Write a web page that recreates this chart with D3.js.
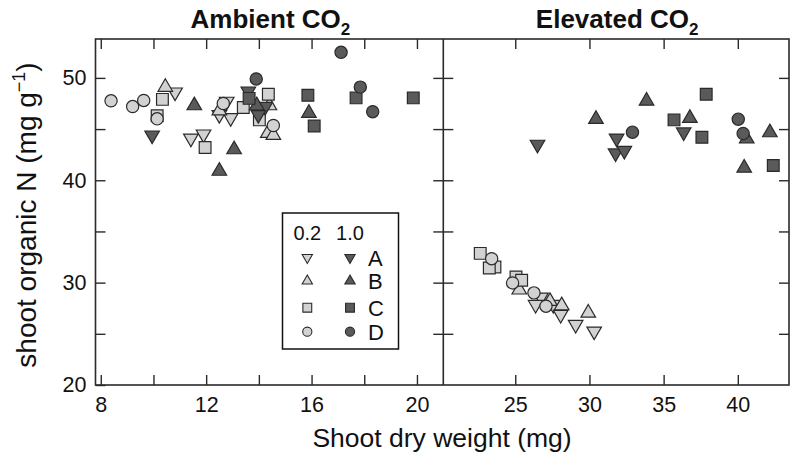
<!DOCTYPE html>
<html><head><meta charset="utf-8">
<script src="https://cdn.jsdelivr.net/npm/d3@7"></script>
<style>
body{margin:0;background:#fff}
svg{display:block}
text{font-family:"Liberation Sans",Arial,Helvetica,sans-serif;fill:#111}
</style>
</head><body>
<svg id="chart" width="793" height="455"></svg>
<script>
// ---- categories / ticks ----
const groups = ["A", "B", "C", "D"];
const levels = ["0.2", "1.0"];
const panelTitles = ["Ambient CO", "Elevated CO"];
const ambientXTicks = [8, 10, 12, 14, 16, 18, 20];
const ambientXLabels = [8, 12, 16, 20];
const elevatedXTicks = [25, 30, 35, 40];
const yTicks = [20, 25, 30, 35, 40, 45, 50];
const yLabels = [20, 30, 40, 50];

// ---- data: [shoot dry weight (mg), shoot organic N (mg/g)] ----
// Ambient CO2, level 0.2
const amb02A = [[10.82,48.6],[11.42,44.1],[11.9,44.5],[12.78,47.7],[12.93,46.1],[12.5,46.4]];
const amb02B = [[10.45,49.1],[12.5,46.8],[14.34,44.6],[14.55,44.4],[14.4,47.3]];
const amb02C = [[10.34,47.9],[10.14,46.3],[11.96,43.2],[13.41,47.1],[14.36,48.4],[14.02,45.9]];
const amb02D = [[8.39,47.76],[9.21,47.2],[9.63,47.8],[10.14,46.0],[12.65,47.5],[14.55,45.35]];
// Ambient CO2, level 1.0
const amb10A = [[9.95,44.4],[13.6,48.7],[14.24,47.2],[13.98,46.4]];
const amb10B = [[11.55,47.3],[13.06,43.0],[12.5,40.9],[13.92,47.3],[15.9,46.55]];
const amb10C = [[13.63,48.0],[15.86,48.3],[16.1,45.3],[17.69,48.05],[19.86,48.05]];
const amb10D = [[13.9,49.9],[17.12,52.5],[17.85,49.1],[18.32,46.7]];
// Elevated CO2, level 0.2
const ele02A = [[26.73,28.57],[26.37,27.85],[27.56,27.85],[28.06,26.88],[29.07,25.9],[30.32,25.25]];
const ele02B = [[25.27,29.3],[27.34,28.18],[28.13,27.76],[29.92,27.04]];
const ele02C = [[22.64,32.86],[23.63,31.53],[23.25,31.43],[25.05,30.55],[25.43,30.23]];
const ele02D = [[23.41,32.34],[24.82,29.97],[26.26,29.0],[27.07,27.7]];
// Elevated CO2, level 1.0
const ele10A = [[26.5,43.5],[31.83,44.1],[31.76,42.65],[32.35,42.9],[36.35,44.7]];
const ele10B = [[30.44,45.97],[33.85,47.75],[36.77,46.07],[40.6,44.05],[40.43,41.2],[42.16,44.66]];
const ele10C = [[35.7,45.9],[37.87,48.4],[37.58,44.2],[42.39,41.45]];
const ele10D = [[32.9,44.7],[40.03,45.97],[40.36,44.57]];

const seriesTable = [
  {panel:0, level:"0.2", group:"A", data:amb02A},{panel:0, level:"0.2", group:"B", data:amb02B},
  {panel:0, level:"0.2", group:"C", data:amb02C},{panel:0, level:"0.2", group:"D", data:amb02D},
  {panel:0, level:"1.0", group:"A", data:amb10A},{panel:0, level:"1.0", group:"B", data:amb10B},
  {panel:0, level:"1.0", group:"C", data:amb10C},{panel:0, level:"1.0", group:"D", data:amb10D},
  {panel:1, level:"0.2", group:"A", data:ele02A},{panel:1, level:"0.2", group:"B", data:ele02B},
  {panel:1, level:"0.2", group:"C", data:ele02C},{panel:1, level:"0.2", group:"D", data:ele02D},
  {panel:1, level:"1.0", group:"A", data:ele10A},{panel:1, level:"1.0", group:"B", data:ele10B},
  {panel:1, level:"1.0", group:"C", data:ele10C},{panel:1, level:"1.0", group:"D", data:ele10D}
];

// ---- styles ----
const fillFor = {"0.2":"#d2d2d2", "1.0":"#5a5a5a"};
const strokeCol = "#2a2a2a";
const axisCol = "#2a2a2a";

const svg = d3.select("#chart");
const plotTop = 39, plotBottom = 385;
const y = d3.scaleLinear().domain([20, 53.8]).range([plotBottom, plotTop]);
const xA = d3.scaleLinear().domain([7.8, 21.0]).range([95.5, 443.3]);
const xE = d3.scaleLinear().domain([20.15, 43.45]).range([443.3, 789]);
const xScales = [xA, xE];

function symPath(group, size) {
  const types = {A:d3.symbolTriangle, B:d3.symbolTriangle, C:d3.symbolSquare, D:d3.symbolCircle};
  return d3.symbol().type(types[group]).size(size[group])();
}
const plotSize = {A:92, B:92, C:138, D:118};
const legSize = {A:46, B:46, C:78, D:66};
function rot(group){ return group === "A" ? " rotate(180)" : ""; }

const tickLen = 10;
function styleAxis(g){
  g.select(".domain").remove();
  g.selectAll(".tick line").attr("stroke", axisCol).attr("stroke-width", 1.4);
  g.selectAll(".tick text").attr("font-size", 21.5).attr("fill", "#111")
    .attr("font-family", '"Liberation Sans",Arial,sans-serif');
}

// Panels axes
[0,1].forEach(p => {
  const x = xScales[p];
  const xt = p === 0 ? ambientXTicks : elevatedXTicks;
  const xl = p === 0 ? ambientXLabels : elevatedXTicks;
  svg.append("g").attr("transform", `translate(0,${plotBottom})`)
    .call(d3.axisBottom(x).tickValues(xt).tickSize(-tickLen).tickPadding(12)
      .tickFormat(d => xl.includes(d) ? d : ""))
    .call(styleAxis);
  svg.append("g").attr("transform", `translate(0,${plotTop})`)
    .call(d3.axisTop(x).tickValues(xt).tickSize(-tickLen).tickFormat(""))
    .call(styleAxis);
  const x0 = x.range()[0], x1 = x.range()[1];
  const yT = yTicks.filter(v => v > 20);
  svg.append("g").attr("transform", `translate(${x0},0)`)
    .call(d3.axisLeft(y).tickValues(p === 0 ? yTicks : yT).tickSize(-tickLen).tickPadding(9)
      .tickFormat(d => (p === 0 && yLabels.includes(d)) ? d : ""))
    .call(styleAxis);
  svg.append("g").attr("transform", `translate(${x1},0)`)
    .call(d3.axisRight(y).tickValues(yT).tickSize(-tickLen).tickFormat(""))
    .call(styleAxis);
});

// Frame
svg.append("rect").attr("x", xA.range()[0]).attr("y", plotTop)
  .attr("width", xE.range()[1] - xA.range()[0]).attr("height", plotBottom - plotTop)
  .attr("fill", "none").attr("stroke", axisCol).attr("stroke-width", 1.6);
svg.append("line").attr("x1", xA.range()[1]).attr("x2", xA.range()[1])
  .attr("y1", plotTop).attr("y2", plotBottom).attr("stroke", axisCol).attr("stroke-width", 1.6);

// Points
seriesTable.forEach(s => {
  const x = xScales[s.panel];
  svg.append("g").selectAll("path").data(s.data).join("path")
    .attr("d", symPath(s.group, plotSize))
    .attr("transform", d => `translate(${x(d[0])},${y(d[1])})${rot(s.group)}`)
    .attr("fill", fillFor[s.level]).attr("stroke", strokeCol).attr("stroke-width", 1.2);
});

// Titles
panelTitles.forEach((t, i) => {
  const x = xScales[i];
  const cx = (x.range()[0] + x.range()[1]) / 2 + 1;
  const txt = svg.append("text").attr("x", cx).attr("y", 28).attr("text-anchor", "middle")
    .attr("font-size", 26).attr("font-weight", "bold");
  txt.append("tspan").text(t);
  txt.append("tspan").attr("font-size", 17).attr("dy", 7).text("2");
});

// Axis titles
svg.append("text").attr("x", 442).attr("y", 447).attr("text-anchor", "middle")
  .attr("font-size", 26.5).text("Shoot dry weight (mg)");
const yl = svg.append("text").attr("transform", "translate(36,215) rotate(-90)")
  .attr("text-anchor", "middle").attr("font-size", 28);
yl.append("tspan").text("shoot organic N (mg g");
yl.append("tspan").attr("font-size", 18).attr("dy", -11).text("\u22121");
yl.append("tspan").attr("dy", 11).text(")");

// Legend
const leg = svg.append("g");
leg.append("rect").attr("x", 282.5).attr("y", 213).attr("width", 116).attr("height", 136)
  .attr("fill", "#fff").attr("stroke", "#111").attr("stroke-width", 1.5);
const colX = [307.3, 350];
const rowY = [257.5, 281, 307.7, 331.7];
levels.forEach((lv, i) => {
  leg.append("text").attr("x", colX[i]).attr("y", 239.5).attr("text-anchor", "middle")
    .attr("font-size", 20).text(lv);
});
groups.forEach((g, j) => {
  levels.forEach((lv, i) => {
    leg.append("path").attr("d", symPath(g, legSize))
      .attr("transform", `translate(${colX[i]},${rowY[j]})${rot(g)}`)
      .attr("fill", fillFor[lv]).attr("stroke", strokeCol).attr("stroke-width", 1.1);
  });
  leg.append("text").attr("x", 368).attr("y", rowY[j] + 8).attr("font-size", 22).text(g);
});
</script>
</body></html>
